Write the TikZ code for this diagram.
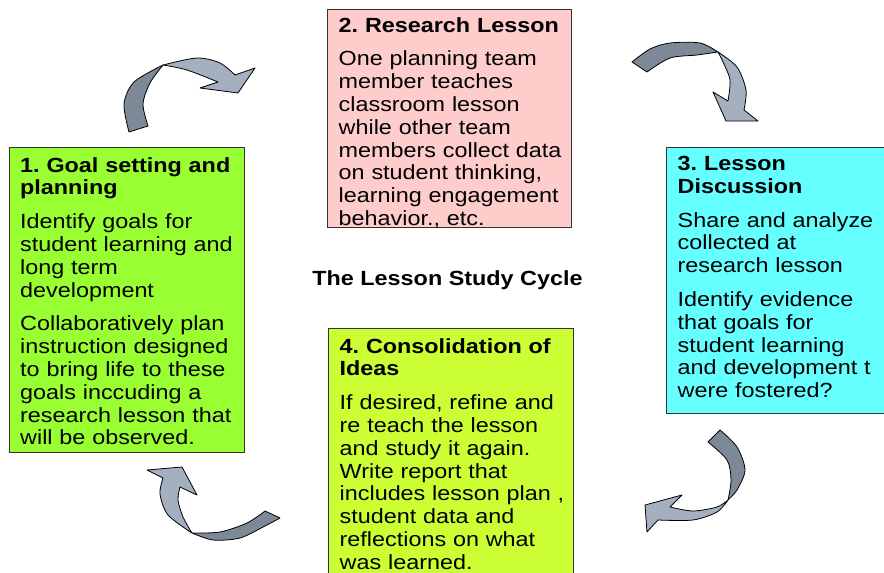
\documentclass[tikz,border=0pt]{standalone}
\usepackage{fontspec}
\setmainfont{Liberation Sans}[FakeStretch=1.14]
\usepackage{tikz}
\usetikzlibrary{positioning}
\definecolor{goalgreen}{RGB}{153,255,51}
\definecolor{lessonpink}{RGB}{255,204,204}
\definecolor{talkcyan}{RGB}{102,255,255}
\definecolor{ideaslime}{RGB}{204,255,51}
\definecolor{bendlight}{RGB}{164,176,191}
\definecolor{benddark}{RGB}{125,137,151}
\frenchspacing

\begin{document}
\begin{tikzpicture}[x=1pt, y=1pt,
  stage/.style={draw=black!80, line width=1.2pt, rectangle, anchor=north west, inner sep=0pt},
  stagetext/.style={inner sep=0pt, text width=250pt, align=left, font=\fontsize{20.5}{22.8}\selectfont},
  bendfront/.style={fill=bendlight, draw=black, line width=0.8pt, line join=round},
  bendback/.style={fill=benddark, draw=black, line width=0.8pt, line join=round}]
  \path[use as bounding box, clip] (0,0) rectangle (884,-573);

  \node[stage, fill=goalgreen, minimum width=235.5pt, minimum height=305pt] (goal) at (8.5,-147) {};
  \node[stage, fill=lessonpink, minimum width=244pt, minimum height=218pt] (lesson) at (327,-9) {};
  \node[stage, fill=talkcyan, minimum width=224pt, minimum height=266pt] (talk) at (666,-147) {};
  \node[stage, fill=ideaslime, minimum width=245pt, minimum height=260pt] (ideas) at (328,-328) {};

  \node[stagetext] (goaltext) [below right=10pt and 11.5pt of goal.north west] {%
    \textbf{1. Goal setting and}\\
    \textbf{planning}\\[11pt]
    Identify goals for\\
    student learning and\\
    long term\\
    development\\[11pt]
    Collaboratively plan\\
    instruction designed\\
    to bring life to these\\
    goals inccuding a\\
    research lesson that\\
    will be observed.};
  \node[stagetext] (lessontext) [below right=8pt and 11.5pt of lesson.north west] {%
    \textbf{2. Research Lesson}\\[11pt]
    One planning team\\
    member teaches\\
    classroom lesson\\
    while other team\\
    members collect data\\
    on student thinking,\\
    learning engagement\\
    behavior., etc.};
  \node[stagetext] (talktext) [below right=9pt and 11.5pt of talk.north west] {%
    \textbf{3. Lesson}\\
    \textbf{Discussion}\\[11pt]
    Share and analyze\\
    collected at\\
    research lesson\\[11pt]
    Identify evidence\\
    that goals for\\
    student learning\\
    and development t\\
    were fostered?};
  \node[stagetext] (ideastext) [below right=10pt and 11.5pt of ideas.north west] {%
    \textbf{4. Consolidation of}\\
    \textbf{Ideas}\\[11pt]
    If desired, refine and\\
    re teach the lesson\\
    and study it again.\\
    Write report that\\
    includes lesson plan ,\\
    student data and\\
    reflections on what\\
    was learned.};

  \node[anchor=base, inner sep=0pt, font=\fontsize{20.5}{22.8}\selectfont\bfseries] (cycle) at (447.5,-285) {The Lesson Study Cycle};

  \filldraw[bendback] plot[smooth] coordinates {(129,-132) (124,-104) (134,-82) (163,-65)}
    -- plot[smooth] coordinates {(163,-65) (150,-83) (143,-104) (148,-126)} -- cycle;
  \filldraw[bendfront] plot[smooth] coordinates {(163,-65) (197,-58) (220,-63) (235,-75)}
    -- (255,-68) -- (238,-93) -- (200,-88) -- (218,-82)
    -- plot[smooth] coordinates {(218,-82) (187,-70) (163,-65)} -- cycle;

  \filldraw[bendback] plot[smooth] coordinates {(632,-62) (650,-49) (670,-43) (700,-43) (718,-52)}
    -- plot[smooth] coordinates {(718,-52) (697,-55) (670,-58) (647,-72)} -- cycle;
  \filldraw[bendfront] plot[smooth] coordinates {(718,-52) (737,-67) (746,-90) (744,-110)}
    -- (758,-121) -- (726,-121) -- (713,-92) -- (728,-101)
    -- plot[smooth] coordinates {(728,-101) (730,-80) (723,-62) (718,-52)} -- cycle;

  \filldraw[bendback] plot[smooth] coordinates {(720,-430) (737,-447) (745,-470) (737,-490) (728,-500)}
    -- plot[smooth] coordinates {(728,-500) (731,-480) (727,-460) (708,-442)} -- cycle;
  \filldraw[bendfront] plot[smooth] coordinates {(728,-500) (717,-512) (693,-520) (658,-520)}
    -- (647,-532) -- (645,-505) -- (682,-495) -- (670,-507)
    -- plot[smooth] coordinates {(670,-507) (693,-511) (717,-507) (728,-500)} -- cycle;

  \filldraw[bendback] plot[smooth] coordinates {(192,-533) (213,-540) (240,-538) (265,-526) (280,-518)}
    -- (265,-511)
    -- plot[smooth] coordinates {(265,-511) (247,-523) (220,-532) (192,-533)} -- cycle;
  \filldraw[bendfront] (163,-478) -- (147,-470) -- (182,-467) -- (197,-495) -- (180,-487)
    -- plot[smooth] coordinates {(180,-487) (178,-500) (183,-517) (192,-533)}
    -- plot[smooth] coordinates {(192,-533) (168,-515) (160,-494) (163,-478)} -- cycle;
\end{tikzpicture}
\end{document}
